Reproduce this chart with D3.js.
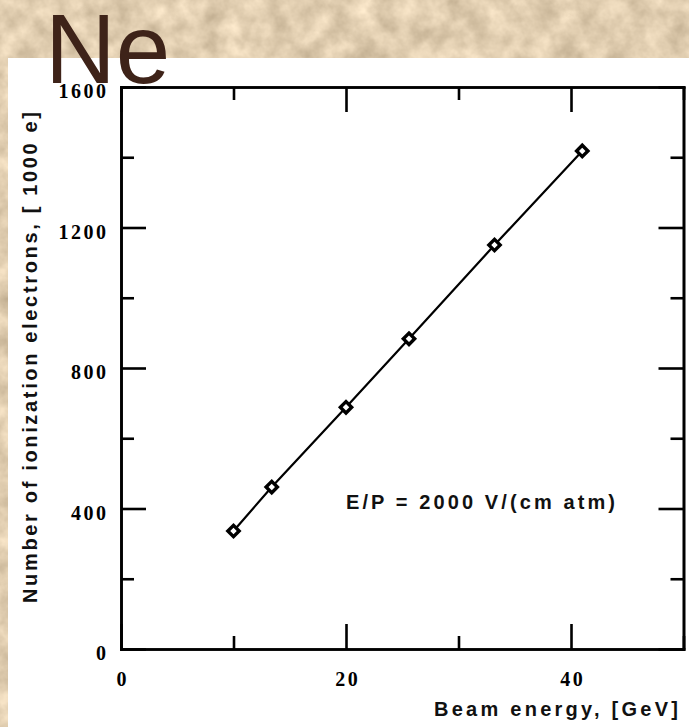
<!DOCTYPE html>
<html>
<head>
<meta charset="utf-8">
<script src="https://cdn.jsdelivr.net/npm/d3@7"></script>
<style>
  html, body { margin: 0; padding: 0; overflow: hidden; background: #e0ccac; }
  svg { display: block; }
</style>
</head>
<body>
<svg id="chart" width="689" height="727"></svg>
<script>
// Measured ionization signal versus beam energy in neon
const beamEnergy = [10, 13.4, 20, 25.6, 33.2, 41];          // GeV
const ionElectrons = [336, 461, 688, 883, 1150, 1418];      // units of 1000 e

const xMajorTicks = [0, 20, 40];
const xMinorTicks = [10, 30, 50];
const yMajorTicks = [0, 400, 800, 1200, 1600];
const yMinorTicks = [200, 600, 1000, 1400];

const gasLabel = "Ne";
const xTitle = "Beam energy, [GeV]";
const yTitle = "Number of ionization electrons, [ 1000 e]";
const fieldNote = "E/P = 2000 V/(cm atm)";

const W = 689, H = 727;
const svg = d3.select("#chart");

// parchment backdrop
const defs = svg.append("defs");
const f = defs.append("filter").attr("id", "paper")
  .attr("x", 0).attr("y", 0).attr("width", "100%").attr("height", "100%")
  .attr("color-interpolation-filters", "sRGB");
f.append("feTurbulence").attr("type", "fractalNoise")
  .attr("baseFrequency", "0.045").attr("numOctaves", 4).attr("seed", 7).attr("result", "n");
f.append("feColorMatrix").attr("in", "n").attr("type", "matrix")
  .attr("values", "0.30 0 0 0 0.73  0.30 0 0 0 0.655  0.30 0 0 0 0.54  0 0 0 0 1");

svg.append("rect").attr("width", W).attr("height", H).attr("filter", "url(#paper)");
svg.append("rect").attr("x", 8).attr("y", 58).attr("width", W - 8).attr("height", H - 58).attr("fill", "#ffffff");

// scales
const x = d3.scaleLinear().domain([0, 50]).range([121, 683.5]);
const y = d3.scaleLinear().domain([0, 1600]).range([649, 87]);

const axisStroke = 2.6;
const tickFont = "'Liberation Serif', 'Times New Roman', serif";
const sansFont = "'Liberation Sans', Arial, Helvetica, sans-serif";

function styleAxis(g) {
  g.select(".domain").attr("stroke", "#000").attr("stroke-width", axisStroke).attr("stroke-linecap", "square");
  g.selectAll(".tick line").attr("stroke", "#000").attr("stroke-width", axisStroke);
}

// bottom axis
const gBottom = svg.append("g").attr("transform", `translate(0,${y(0)})`)
  .call(d3.axisBottom(x).tickValues(xMajorTicks).tickSize(-25).tickSizeOuter(0).tickPadding(23).tickFormat(d3.format("d")));
styleAxis(gBottom);
gBottom.selectAll(".tick text")
  .attr("font-family", tickFont).attr("font-weight", "bold").attr("font-size", 20)
  .attr("letter-spacing", 2.5).attr("dx", 1.25).attr("dy", "0.71em").attr("fill", "#000");
svg.append("g").attr("transform", `translate(0,${y(0)})`)
  .call(d3.axisBottom(x).tickValues(xMinorTicks).tickSize(-13).tickSizeOuter(0).tickFormat(""))
  .call(styleAxis);

// top axis
svg.append("g").attr("transform", `translate(0,${y(1600)})`)
  .call(d3.axisTop(x).tickValues(xMajorTicks).tickSize(-25).tickSizeOuter(0).tickFormat(""))
  .call(styleAxis);
svg.append("g").attr("transform", `translate(0,${y(1600)})`)
  .call(d3.axisTop(x).tickValues(xMinorTicks).tickSize(-13).tickSizeOuter(0).tickFormat(""))
  .call(styleAxis);

// left axis
const gLeft = svg.append("g").attr("transform", `translate(${x(0)},0)`)
  .call(d3.axisLeft(y).tickValues(yMajorTicks).tickSize(-25).tickSizeOuter(0).tickPadding(12.5).tickFormat(d3.format("d")));
styleAxis(gLeft);
gLeft.selectAll(".tick text")
  .attr("font-family", tickFont).attr("font-weight", "bold").attr("font-size", 20)
  .attr("letter-spacing", 2.5).attr("dy", 10.5).attr("fill", "#000");
svg.append("g").attr("transform", `translate(${x(0)},0)`)
  .call(d3.axisLeft(y).tickValues(yMinorTicks).tickSize(-13).tickSizeOuter(0).tickFormat(""))
  .call(styleAxis);

// right axis
svg.append("g").attr("transform", `translate(${x(50)},0)`)
  .call(d3.axisRight(y).tickValues(yMajorTicks).tickSize(-25).tickSizeOuter(0).tickFormat(""))
  .call(styleAxis);
svg.append("g").attr("transform", `translate(${x(50)},0)`)
  .call(d3.axisRight(y).tickValues(yMinorTicks).tickSize(-13).tickSizeOuter(0).tickFormat(""))
  .call(styleAxis);

// data line and markers
const pts = beamEnergy.map((e, i) => ({ e, n: ionElectrons[i] }));
svg.append("path").datum(pts)
  .attr("fill", "none").attr("stroke", "#000").attr("stroke-width", 2.2)
  .attr("d", d3.line().x(d => x(d.e)).y(d => y(d.n)));
svg.append("g").selectAll("path").data(pts).join("path")
  .attr("d", d3.symbol(d3.symbolSquare, 64))
  .attr("transform", d => `translate(${x(d.e)},${y(d.n)}) rotate(45)`)
  .attr("fill", "#fff").attr("stroke", "#000").attr("stroke-width", 3.4);

// annotation
svg.append("text").attr("x", 346).attr("y", 509)
  .attr("font-family", sansFont).attr("font-weight", "bold").attr("font-size", 20)
  .attr("textLength", 269).attr("lengthAdjust", "spacing").attr("fill", "#111")
  .text(fieldNote);

// axis titles
svg.append("text").attr("x", 434).attr("y", 716)
  .attr("font-family", sansFont).attr("font-weight", "bold").attr("font-size", 20)
  .attr("textLength", 244).attr("lengthAdjust", "spacing").attr("fill", "#111")
  .text(xTitle);
svg.append("text").attr("transform", "translate(37,603) rotate(-90)")
  .attr("font-family", sansFont).attr("font-weight", "bold").attr("font-size", 20)
  .attr("textLength", 491).attr("lengthAdjust", "spacing").attr("fill", "#111")
  .text(yTitle);

// gas label
svg.append("text").attr("x", 45).attr("y", 83)
  .attr("font-family", sansFont).attr("font-size", 98).attr("fill", "#3e2319")
  .text(gasLabel);
</script>
</body>
</html>
